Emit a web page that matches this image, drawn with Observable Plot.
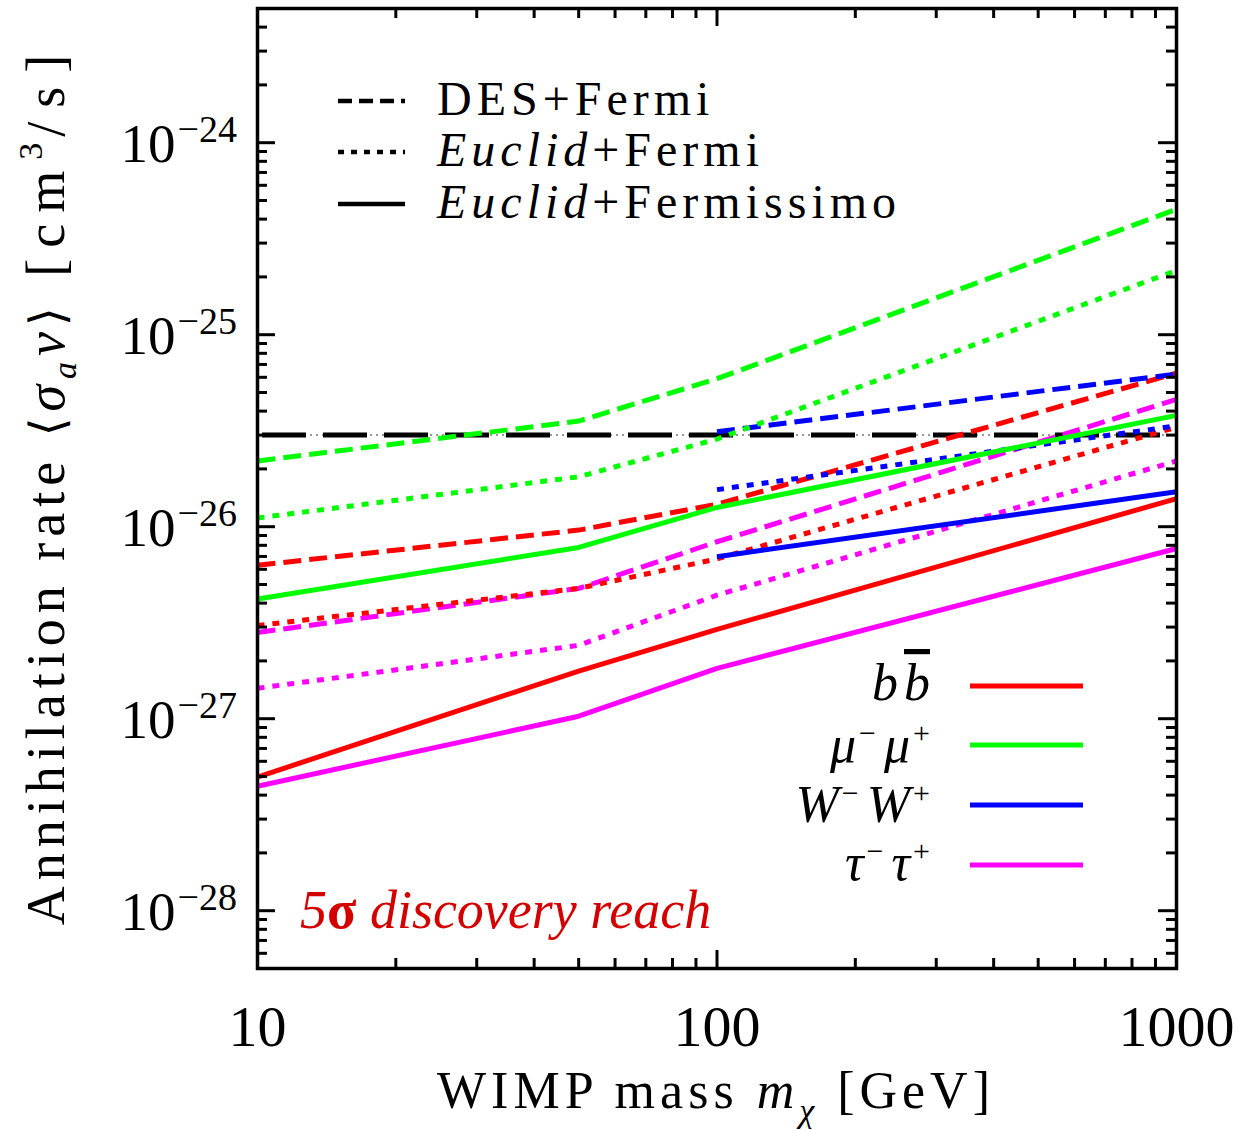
<!DOCTYPE html>
<html><head><meta charset="utf-8">
<script src="https://cdn.jsdelivr.net/npm/d3@7"></script>
<script src="https://cdn.jsdelivr.net/npm/@observablehq/plot@0.6"></script>
<style>
body{margin:0;background:#fff;}
#chart{position:relative;width:1242px;height:1130px;}
</style>
</head><body><div id="chart"></div>
<script>
// ---------------- data ----------------
const masses = [10, 50, 100, 1000];        // GeV
const massesW = [100, 1000];               // W+W- curves start at 100 GeV
const channels = ["bb", "mumu", "WW", "tautau"];
const channelColors = ["#ff0000", "#00ff00", "#0000ff", "#ff00ff"];
const surveys = ["DES+Fermi", "Euclid+Fermi", "Euclid+Fermissimo"];
const surveyDash = ["18,8", "7,8", null];

const bbDES       = [6.3e-27, 9.6e-27, 1.31e-26, 6.3e-26];
const bbEuclid    = [3.06e-27, 4.77e-27, 6.8e-27, 3.3e-26];
const bbFermissimo= [4.97e-28, 1.77e-27, 2.92e-27, 1.40e-26];

const mumuDES       = [2.2e-26, 3.55e-26, 5.9e-26, 4.5e-25];
const mumuEuclid    = [1.11e-26, 1.82e-26, 2.86e-26, 2.16e-25];
const mumuFermissimo= [4.2e-27, 7.8e-27, 1.26e-26, 3.8e-26];

const wwDES       = [3.12e-26, 6.24e-26];
const wwEuclid    = [1.56e-26, 3.35e-26];
const wwFermissimo= [6.98e-27, 1.52e-26];

const tautauDES       = [2.81e-27, 4.77e-27, 8.35e-27, 4.6e-26];
const tautauEuclid    = [1.44e-27, 2.41e-27, 4.4e-27, 2.2e-26];
const tautauFermissimo= [4.45e-28, 1.03e-27, 1.83e-27, 7.7e-27];

const relicRate = [3.0e-26];

const xMajorTicks = [10, 100, 1000];
const xTickLabels = ["10", "100", "1000"];
const yMajorTicks = [1e-28, 1e-27, 1e-26, 1e-25, 1e-24];
const yTickExponents = ["−28", "−27", "−26", "−25", "−24"];

// ---------------- table ----------------
const series = [
  ["bb", masses, [bbDES, bbEuclid, bbFermissimo]],
  ["mumu", masses, [mumuDES, mumuEuclid, mumuFermissimo]],
  ["WW", massesW, [wwDES, wwEuclid, wwFermissimo]],
  ["tautau", masses, [tautauDES, tautauEuclid, tautauFermissimo]]
];
const rows = [];
for (const [ch, ms, sets] of series) {
  sets.forEach((vals, si) => {
    vals.forEach((v, i) => rows.push({channel: ch, survey: surveys[si], mass: ms[i], rate: v}));
  });
}

const xMinorTicks = [];
for (const dec of [10, 100]) for (let m = 2; m <= 9; m++) xMinorTicks.push(m * dec);
const yMinorTicks = [];
for (let e = -29; e <= -24; e++) for (let m = 2; m <= 9; m++) {
  const v = m * Math.pow(10, e);
  if (v > 5e-29 && v < 5e-24) yMinorTicks.push(v);
}

// ---------------- layout ----------------
const W = 1242, H = 1130;
const mTop = 8, mRight = 66, mBottom = 162, mLeft = 257;
const frameW = W - mLeft - mRight, frameH = H - mTop - mBottom;
const majorLen = 18, minorLen = 10;
const serif = "Liberation Serif";

const lineMarks = surveys.map((s, i) => Plot.line(rows.filter(r => r.survey === s), {
  x: "mass", y: "rate", z: "channel", stroke: "channel",
  strokeWidth: 5, strokeDasharray: surveyDash[i], strokeLinecap: "butt", strokeLinejoin: "round"
}));

const tickStyle = {stroke: "black", strokeWidth: 3};

const chart = Plot.plot({
  width: W, height: H,
  marginTop: mTop, marginRight: mRight, marginBottom: mBottom, marginLeft: mLeft,
  style: {background: "white", fontFamily: serif, overflow: "visible"},
  x: {type: "log", domain: [10, 1000], axis: null},
  y: {type: "log", domain: [5e-29, 5e-24], axis: null},
  color: {domain: channels, range: channelColors},
  marks: [
    // relic cross-section reference line
    Plot.ruleY(relicRate, {y: d => d, stroke: "#777", strokeWidth: 1.5, strokeDasharray: "2,4", insetLeft: 5, insetRight: 2}),
    Plot.ruleY(relicRate, {y: d => d, stroke: "black", strokeWidth: 5, strokeDasharray: "44,17", insetLeft: 5, insetRight: 2}),
    ...lineMarks,
    // inward ticks, all four sides
    Plot.tickX(xMajorTicks, {x: d => d, insetTop: frameH - majorLen, ...tickStyle}),
    Plot.tickX(xMajorTicks, {x: d => d, insetBottom: frameH - majorLen, ...tickStyle}),
    Plot.tickX(xMinorTicks, {x: d => d, insetTop: frameH - minorLen, ...tickStyle}),
    Plot.tickX(xMinorTicks, {x: d => d, insetBottom: frameH - minorLen, ...tickStyle}),
    Plot.tickY(yMajorTicks, {y: d => d, insetRight: frameW - majorLen, ...tickStyle}),
    Plot.tickY(yMajorTicks, {y: d => d, insetLeft: frameW - majorLen, ...tickStyle}),
    Plot.tickY(yMinorTicks, {y: d => d, insetRight: frameW - minorLen, ...tickStyle}),
    Plot.tickY(yMinorTicks, {y: d => d, insetLeft: frameW - minorLen, ...tickStyle}),
    Plot.frame({stroke: "black", strokeWidth: 3.5}),
    // tick labels
    Plot.text(xMajorTicks, {x: d => d, frameAnchor: "bottom", dy: 77, text: (d, i) => xTickLabels[i],
      fontSize: 58, fontFamily: serif, lineAnchor: "bottom", fill: "black"}),
    Plot.text(yMajorTicks, {y: d => d, frameAnchor: "left", dx: -82, dy: 19, text: () => "10",
      textAnchor: "end", lineAnchor: "bottom", fontSize: 55, fontFamily: serif, letterSpacing: 4, fill: "black"}),
    Plot.text(yMajorTicks, {y: d => d, frameAnchor: "left", dx: -80, dy: -1, text: (d, i) => yTickExponents[i],
      textAnchor: "start", lineAnchor: "bottom", fontSize: 38, fontFamily: serif, letterSpacing: 2, fill: "black"})
  ]
});
document.getElementById("chart").appendChild(chart);

// ---------------- titles & legends (text overlays) ----------------
const svg = d3.select(chart);

// x title
const xt = svg.append("text").attr("x", 716).attr("y", 1108).attr("text-anchor", "middle")
  .attr("font-family", serif).attr("font-size", 52).attr("letter-spacing", 5).attr("fill", "black");
xt.append("tspan").text("WIMP mass ");
xt.append("tspan").attr("font-style", "italic").text("m");
xt.append("tspan").attr("font-style", "italic").attr("font-size", 34).attr("dy", 14).text("χ");
xt.append("tspan").attr("dy", -14).text(" [GeV]");

// y title
const yt = svg.append("text").attr("transform", "translate(64,483) rotate(-90)").attr("text-anchor", "middle")
  .attr("font-family", serif).attr("font-size", 54).attr("letter-spacing", 6).attr("fill", "black");
yt.append("tspan").text("Annihilation rate ");
yt.append("tspan").attr("font-family", "DejaVu Serif").attr("font-size", 48).text("⟨");
yt.append("tspan").attr("font-style", "italic").text("σ");
yt.append("tspan").attr("font-style", "italic").attr("font-size", 34).attr("dy", 12).text("a");
yt.append("tspan").attr("font-style", "italic").attr("dy", -12).text("v");
yt.append("tspan").attr("font-family", "DejaVu Serif").attr("font-size", 48).text("⟩");
yt.append("tspan").attr("letter-spacing", 11).text(" [cm");
yt.append("tspan").attr("font-size", 34).attr("dy", -22).text("3");
yt.append("tspan").attr("dy", 22).attr("letter-spacing", 14).text("/s]");

// survey legend (line styles)
const legendTop = svg.append("g");
const legendItems = [
  {dash: "14,7", y: 101, parts: [["DES+Fermi", "normal"]]},
  {dash: "6,7", y: 152, parts: [["Euclid", "italic"], ["+Fermi", "normal"]]},
  {dash: null, y: 204, parts: [["Euclid", "italic"], ["+Fermissimo", "normal"]]}
];
legendItems.forEach(it => {
  legendTop.append("line").attr("x1", 338).attr("x2", 405).attr("y1", it.y).attr("y2", it.y)
    .attr("stroke", "black").attr("stroke-width", 4.5).attr("stroke-dasharray", it.dash);
  const t = legendTop.append("text").attr("x", 437).attr("y", it.y + 14).attr("text-anchor", "start")
    .attr("font-family", serif).attr("font-size", 48).attr("letter-spacing", 5).attr("fill", "black");
  it.parts.forEach(([s, st]) => t.append("tspan").attr("font-style", st).text(s));
});

// channel legend
const legendCh = svg.append("g");
const chLabelY = [700, 762, 822, 880];
const chLineY = [686, 745, 805, 865];
channels.forEach((ch, i) => {
  legendCh.append("line").attr("x1", 970).attr("x2", 1083).attr("y1", chLineY[i]).attr("y2", chLineY[i])
    .attr("stroke", channelColors[i]).attr("stroke-width", 5);
  const t = legendCh.append("text").attr("x", 930).attr("y", chLabelY[i]).attr("text-anchor", "end")
    .attr("font-family", serif).attr("font-size", 52).attr("font-style", "italic").attr("fill", "black");
  const supSize = 30, raise = 19;
  if (ch === "bb") {
    t.append("tspan").text("b");
    t.append("tspan").attr("dx", 6).attr("text-decoration", "overline").text("b");
  } else {
    const g = ch === "mumu" ? "μ" : ch === "WW" ? "W" : "τ";
    t.append("tspan").text(g);
    t.append("tspan").attr("font-style", "normal").attr("font-size", supSize).attr("dx", 3).attr("dy", -raise).text("−");
    t.append("tspan").attr("dy", raise).attr("dx", 8).text(g);
    t.append("tspan").attr("font-style", "normal").attr("font-size", supSize).attr("dx", 3).attr("dy", -raise).text("+");
  }
});

// annotation
const ann = svg.append("text").attr("x", 300).attr("y", 928).attr("text-anchor", "start")
  .attr("font-family", serif).attr("font-style", "italic").attr("font-size", 54)
  .attr("fill", "#d40000");
ann.append("tspan").text("5");
ann.append("tspan").attr("font-weight", "bold").attr("font-style", "normal").text("σ");
ann.append("tspan").text(" discovery reach");
</script>
</body></html>
